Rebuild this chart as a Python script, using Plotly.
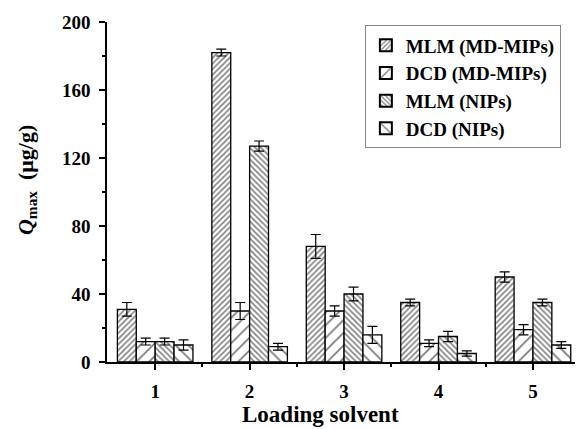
import plotly.graph_objects as go

categories = [1, 2, 3, 4, 5]
series_names = ["MLM (MD-MIPs)", "DCD (MD-MIPs)", "MLM (NIPs)", "DCD (NIPs)"]
mlm_mip = [31, 182, 68, 35, 50]
mlm_mip_err = [4, 2, 7, 2, 3]
dcd_mip = [12, 30, 30, 11, 19]
dcd_mip_err = [2, 5, 3, 2, 3]
mlm_nip = [12, 127, 40, 15, 35]
mlm_nip_err = [2, 3, 4, 3, 2]
dcd_nip = [10, 9, 16, 5, 10]
dcd_nip_err = [3, 2, 5, 1.5, 2]

values = [mlm_mip, dcd_mip, mlm_nip, dcd_nip]
errors = [mlm_mip_err, dcd_mip_err, mlm_nip_err, dcd_nip_err]
patterns = [("/", 4, 0.38), ("/", 9, 0.2), ("\\", 4, 0.38), ("\\", 9, 0.2)]

FONT = "Liberation Serif"
fig = go.Figure()
for name, v, e, (shape, size, sol) in zip(series_names, values, errors, patterns):
    fig.add_trace(go.Bar(
        x=categories, y=v, name=name,
        error_y=dict(type="data", array=e, color="black", thickness=1.2, width=5),
        marker=dict(color="white", line=dict(color="black", width=1.3),
                    pattern=dict(shape=shape, size=size, solidity=sol,
                                 fgcolor="black", bgcolor="white", fillmode="overlay")),
    ))

fig.update_layout(
    width=576, height=429,
    margin=dict(l=107, r=1, t=22, b=67, autoexpand=False),
    paper_bgcolor="white", plot_bgcolor="white",
    barmode="group", bargap=0.2, bargroupgap=0,
    font=dict(family=FONT, size=18, color="black"),
    showlegend=True,
    legend=dict(x=0.551, y=0.99, xanchor="left", yanchor="top",
                bordercolor="#888", borderwidth=1, bgcolor="white",
                font=dict(family=FONT, size=19, color="black", weight="bold"),
                tracegroupgap=0, itemsizing="constant"),
    xaxis=dict(range=[0.49, 5.445], tickvals=categories, ticktext=[str(c) for c in categories],
               showline=True, linecolor="black", linewidth=1.5, automargin=False,
               ticks="outside", ticklen=6, tickwidth=1.5, tickcolor="black",
               minor=dict(tickvals=[1.5, 2.5, 3.5, 4.5], ticks="outside", ticklen=3, tickcolor="black"),
               showgrid=False, zeroline=False, ticklabelstandoff=5,
               tickfont=dict(family=FONT, size=19, weight="bold")),
    yaxis=dict(range=[0, 200], tickvals=[0, 40, 80, 120, 160, 200],
               showline=True, linecolor="black", linewidth=1.5, automargin=False,
               ticks="outside", ticklen=6, tickwidth=1.5, tickcolor="black",
               minor=dict(tickvals=[20, 60, 100, 140, 180], ticks="outside", ticklen=3, tickcolor="black"),
               showgrid=False, zeroline=False, ticklabelstandoff=5,
               tickfont=dict(family=FONT, size=19, weight="bold")),
    annotations=[
        dict(text="<b>Loading solvent</b>", xref="paper", yref="paper", x=0.457, y=-0.155,
             xanchor="center", yanchor="middle", showarrow=False,
             font=dict(family=FONT, size=23, color="black")),
        dict(text="<b><i>Q</i><sub>max</sub>  (μg/g)</b>", xref="paper", yref="paper", x=-0.171, y=0.535,
             xanchor="center", yanchor="middle", showarrow=False, textangle=-90,
             font=dict(family=FONT, size=22, color="black")),
    ],
)

fig.write_html("out.html", config={"displayModeBar": False},
               post_script="document.body.style.margin='0';document.body.style.overflow='hidden';")
